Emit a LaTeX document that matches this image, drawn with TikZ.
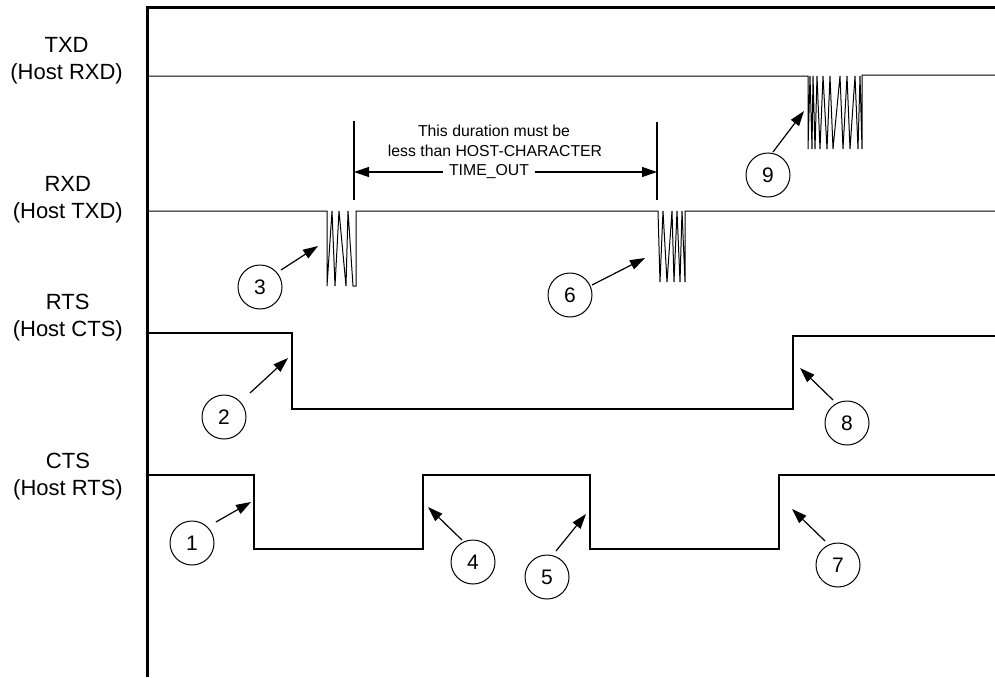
\documentclass[tikz,border=0pt]{standalone}
\usepackage{fontspec}
\setmainfont{Liberation Sans}
\usetikzlibrary{arrows.meta}
\begin{document}
\begin{tikzpicture}[x=1pt,y=-1pt,
  sig/.style={line width=1.3pt, line join=miter},
  fsig/.style={line width=1pt, line join=miter},
  frame/.style={line width=3pt},
  lbl/.style={align=center, anchor=east, font=\fontsize{22}{27}\selectfont, inner sep=0pt},
  num/.style={circle, draw, line width=1pt, minimum size=44pt, inner sep=0pt, font=\fontsize{21}{21}\selectfont},
  callout/.style={line width=1.2pt, -{Triangle[length=15pt,width=10pt]}},
  note/.style={align=center, font=\fontsize{15.8}{20}\selectfont, inner sep=0pt},
  dur/.style={line width=1.2pt, -{Triangle[length=15pt,width=10pt]}}
]
\useasboundingbox (0,0) rectangle (995,677);
% frame
\draw[frame] (147,677) -- (147,8) -- (995,8);
% labels
\node[lbl] (ltxd) at (123,61) {TXD\\(Host RXD)};
\node[lbl] (lrxd) at (123,200) {RXD\\(Host TXD)};
\node[lbl] (lrts) at (123,318) {RTS\\(Host CTS)};
\node[lbl] (lcts) at (123,477) {CTS\\(Host RTS)};
% TXD
\draw[fsig] (147,76) -- (808,76) -- (808,149)
  -- (810,76) -- (812,149) -- (813,76) -- (815,149) -- (817,76) -- (820,149)
  -- (823,76) -- (827,149) -- (830,76) -- (833,149) -- (840,76) -- (843,149)
  -- (847,76) -- (850,149) -- (855,76) -- (858,149) -- (860,76) -- (862,149)
  -- (862,75) -- (995,75);
% RXD
\draw[fsig] (147,211) -- (327,211) -- (327,286)
  -- (332,211) -- (335,286) -- (339,211) -- (346,286) -- (348,211) -- (353,286)
  -- (356,286) -- (356,211) -- (658,211) -- (660,282)
  -- (663,211) -- (667,282) -- (672,211) -- (674,282) -- (677,211) -- (680,282)
  -- (682,211) -- (685,282) -- (685,211) -- (995,211);
% RTS
\draw[sig] (147,333) -- (292,333) -- (292,409) -- (793,409) -- (793,336) -- (995,336);
% CTS
\draw[sig] (147,475) -- (254,475) -- (254,549) -- (423,549) -- (423,475) -- (590,475) -- (590,549) -- (779,549) -- (779,475) -- (995,475);
% duration annotation
\coordinate (dl1) at (354,121); \coordinate (dl2) at (354,200);
\coordinate (dr1) at (657,122); \coordinate (dr2) at (657,200);
\draw[line width=1.2pt] (dl1) -- (dl2);
\draw[line width=1.2pt] (dr1) -- (dr2);
\node[note] (n1) at (494,131) {This duration must be};
\node[note] (n2) at (495,151) {less than HOST-CHARACTER};
\node[note] (n3) at (489,172) {TIME\_OUT};
\coordinate (al) at (354,172); \coordinate (ar) at (657,172);
\draw[dur] ([xshift=-6pt]n3.west) -- (al);
\draw[dur] ([xshift=6pt]n3.east) -- (ar);
% numbered callouts
\node[num] (c1) at (192,543) {1};
\node[num] (c2) at (224,417) {2};
\node[num] (c3) at (260,287) {3};
\node[num] (c4) at (473,562) {4};
\node[num] (c5) at (547,577) {5};
\node[num] (c6) at (570,295) {6};
\node[num] (c7) at (838,565) {7};
\node[num] (c8) at (847,423) {8};
\node[num] (c9) at (768,175) {9};
\coordinate (s1) at (216,522); \coordinate (t1) at (251,502);
\coordinate (s2) at (250,393); \coordinate (t2) at (288,358);
\coordinate (s3) at (281,270); \coordinate (t3) at (318,246);
\coordinate (s4) at (462,540); \coordinate (t4) at (428,507);
\coordinate (s5) at (556,551); \coordinate (t5) at (586,514);
\coordinate (s6) at (592,285); \coordinate (t6) at (645,258);
\coordinate (s7) at (825,541); \coordinate (t7) at (792,509);
\coordinate (s8) at (833,400); \coordinate (t8) at (800,368);
\coordinate (s9) at (773,152); \coordinate (t9) at (804,111);
\foreach \i in {1,...,9}{\draw[callout] (s\i) -- (t\i);}
\end{tikzpicture}
\end{document}
